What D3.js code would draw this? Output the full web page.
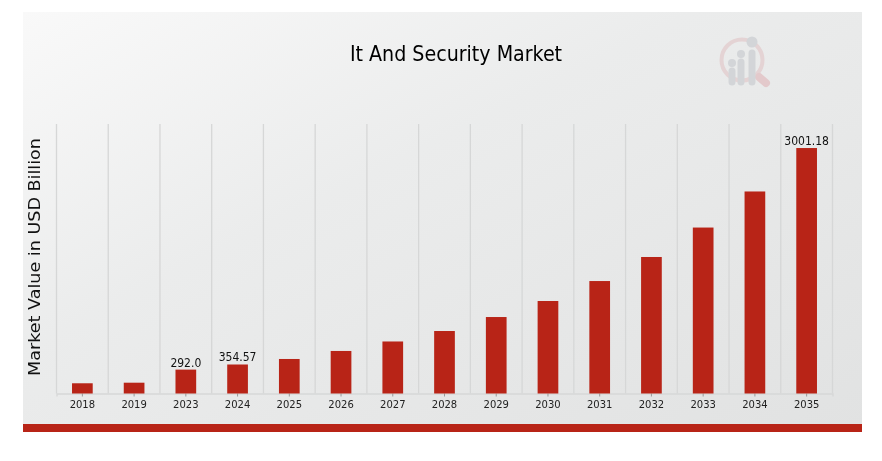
<!DOCTYPE html>
<html lang="en">
  <head>
    <meta charset="utf-8">
    <title>It And Security Market</title>
    <script src="https://cdn.jsdelivr.net/npm/d3@7"></script>
<style>
html, body { margin: 0; padding: 0; background: #fff; }
svg { display: block; }
text { font-family: "DejaVu Sans", sans-serif; }
.narrow { font-stretch: condensed; }
</style>
  </head>
  <body>
    <script>
      var years = ["2018", "2019", "2023", "2024", "2025", "2026", "2027", "2028", "2029", "2030", "2031", "2032", "2033", "2034", "2035"];
      var values = [125, 132, 292.0, 354.57, 422, 520, 636, 764, 935, 1131, 1375, 1669, 2029, 2470, 3001.18];
      var shownLabels = ["2023", "2024", "2035"];

      var width = 882;
      var height = 461;
      var panel = { left: 23, top: 12, right: 862, bottom: 432 };
      var plot = { left: 56.5, top: 124, right: 832.5, bottom: 393.5 };

      var x = d3.scaleBand().domain(years).range([plot.left, plot.right]).paddingInner(0.6).paddingOuter(0.3);
      var y = d3.scaleLinear().domain([0, 3295]).range([plot.bottom, plot.top]);
      var step = x.step();

      var svg = d3.select("body").append("svg")
        .attr("width", width)
        .attr("height", height);

      var defs = svg.append("defs");
      var grad = defs.append("linearGradient")
        .attr("id", "bg")
        .attr("x1", "0%").attr("y1", "0%")
        .attr("x2", "100%").attr("y2", "100%");
      grad.append("stop").attr("offset", "0%").attr("stop-color", "#f9f9f9");
      grad.append("stop").attr("offset", "40%").attr("stop-color", "#ebecec");
      grad.append("stop").attr("offset", "100%").attr("stop-color", "#e1e2e2");
      defs.append("filter").attr("id", "soft")
        .attr("x", "0%").attr("y", "0%").attr("width", "100%").attr("height", "100%")
        .attr("color-interpolation-filters", "sRGB")
        .append("feGaussianBlur").attr("stdDeviation", 0.5);

      var root = svg.append("g").attr("filter", "url(#soft)");

      root.append("rect")
        .attr("x", panel.left)
        .attr("y", panel.top)
        .attr("width", panel.right - panel.left)
        .attr("height", panel.bottom - panel.top)
        .attr("fill", "url(#bg)");

      root.append("rect")
        .attr("x", panel.left)
        .attr("y", 424)
        .attr("width", panel.right - panel.left)
        .attr("height", 8)
        .attr("fill", "#b82417");

      // logo, top right
      var logo = root.append("g");
      logo.append("circle").attr("cx", 742).attr("cy", 60).attr("r", 20.5)
        .attr("fill", "none").attr("stroke", "#e4d3d4").attr("stroke-width", 4);
      logo.append("line").attr("x1", 759).attr("y1", 77).attr("x2", 766).attr("y2", 83)
        .attr("stroke", "#e3c9cb").attr("stroke-width", 8).attr("stroke-linecap", "round");
      [[732, 63, 69], [741, 54, 60], [752, 42, 51]].forEach(function(b) {
        logo.append("line").attr("x1", b[0]).attr("x2", b[0]).attr("y1", b[2] + 2).attr("y2", 82)
          .attr("stroke", "#d3d5d8").attr("stroke-width", 7).attr("stroke-linecap", "round");
        logo.append("circle").attr("cx", b[0]).attr("cy", b[1]).attr("r", b[0] == 752 ? 5.5 : 4)
          .attr("fill", "#d3d5d8");
      });

      // vertical separators between the categories
      root.selectAll("line.grid")
        .data(d3.range(years.length + 1))
        .enter()
        .append("line")
        .attr("class", "grid")
        .attr("x1", function(d) { return plot.left + d * step; })
        .attr("x2", function(d) { return plot.left + d * step; })
        .attr("y1", plot.top)
        .attr("y2", plot.bottom)
        .attr("stroke", "#d6d7d7")
        .attr("stroke-width", 1.3);

      var xAxis = root.append("g")
        .attr("transform", "translate(0," + plot.bottom + ")")
        .call(d3.axisBottom(x).tickSize(3).tickPadding(4));
      xAxis.select(".domain").attr("stroke", "#d6d7d7").attr("stroke-width", 1.3);
      xAxis.selectAll(".tick line").attr("stroke", "#999");
      xAxis.selectAll("text")
        .attr("font-size", 10)
        .attr("font-family", "'DejaVu Sans', sans-serif")
        .attr("fill", "#222");

      root.selectAll("rect.bar")
        .data(values)
        .enter()
        .append("rect")
        .attr("class", "bar")
        .attr("x", function(d, i) { return x(years[i]); })
        .attr("y", function(d) { return y(d); })
        .attr("width", x.bandwidth())
        .attr("height", function(d) { return plot.bottom - y(d); })
        .attr("fill", "#b82417");

      root.selectAll("text.value")
        .data(values)
        .enter()
        .append("text")
        .attr("class", "value narrow")
        .filter(function(d, i) { return shownLabels.indexOf(years[i]) >= 0; })
        .attr("x", function(d) { return x(years[values.indexOf(d)]) + x.bandwidth() / 2; })
        .attr("y", function(d) { return y(d) - 3; })
        .attr("text-anchor", "middle")
        .attr("font-size", 12)
        .attr("fill", "#111")
        .text(function(d) { return d == 292 ? "292.0" : d; });

      root.append("text")
        .attr("class", "narrow")
        .attr("x", 456)
        .attr("y", 61)
        .attr("text-anchor", "middle")
        .attr("font-size", 21.2)
        .attr("fill", "#000")
        .text("It And Security Market");

      root.append("text")
        .attr("transform", "translate(40,257) rotate(-90)")
        .attr("text-anchor", "middle")
        .attr("font-size", 15.5)
        .attr("textLength", 238)
        .attr("lengthAdjust", "spacingAndGlyphs")
        .attr("fill", "#111")
        .text("Market Value in USD Billion");
    </script>
  </body>
</html>
